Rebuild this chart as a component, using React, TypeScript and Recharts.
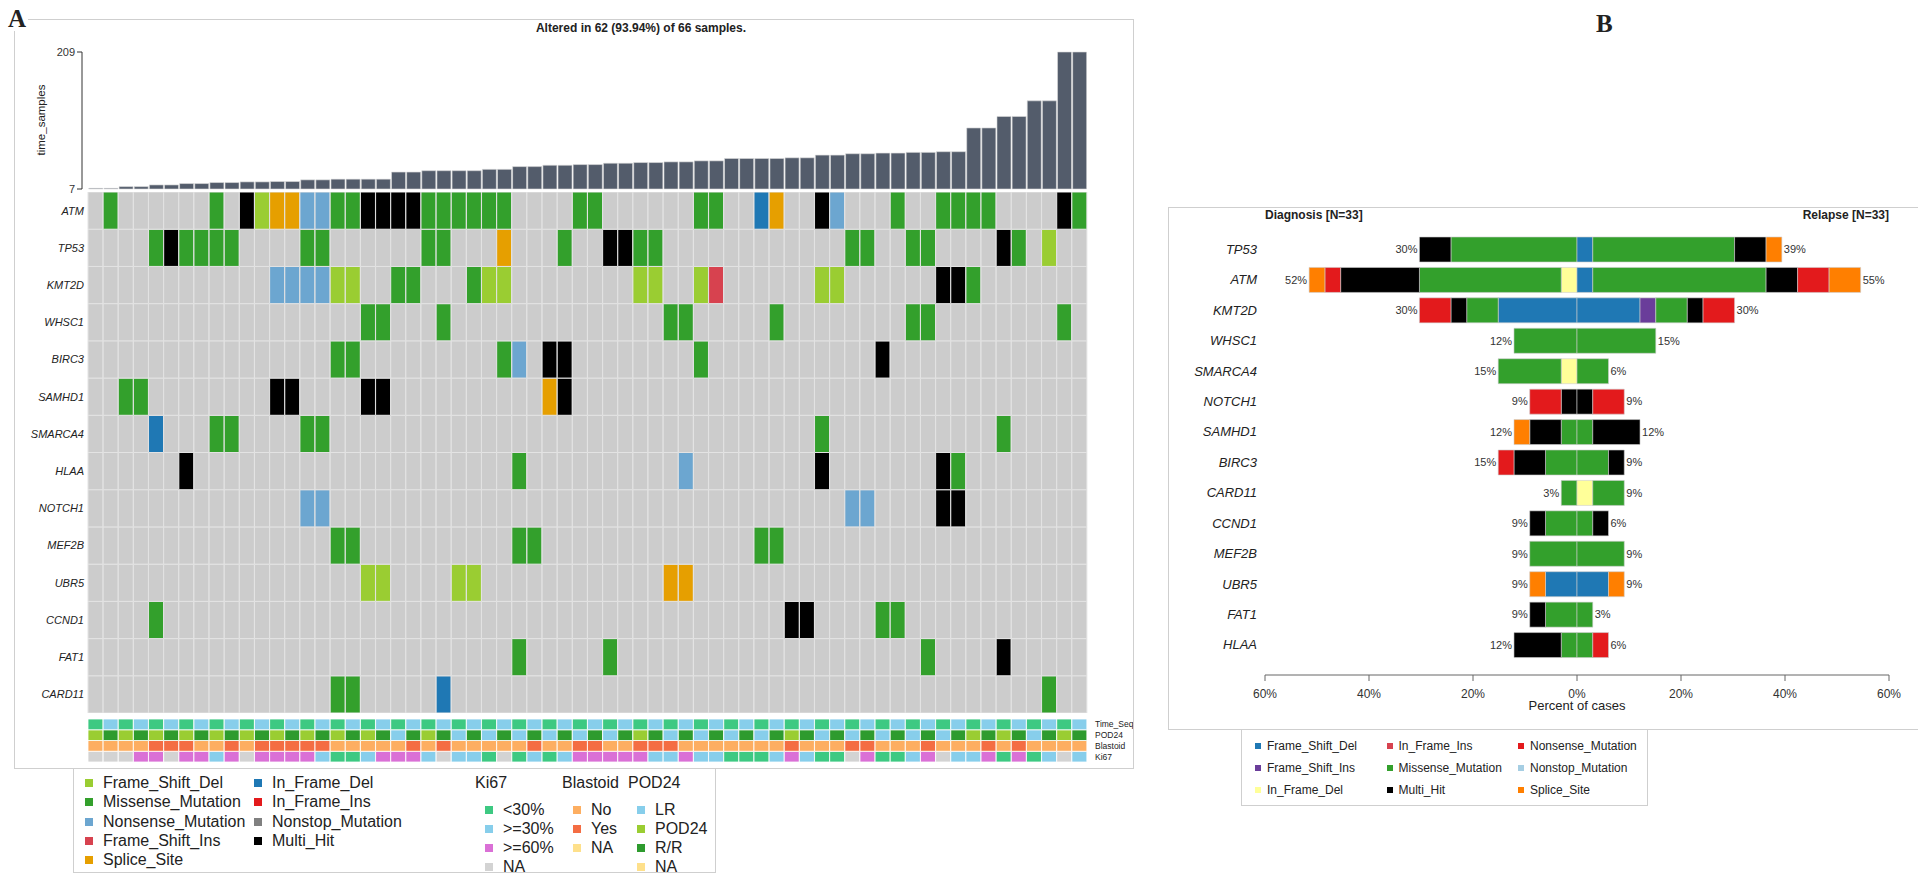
import React from 'react';
import { BarChart, Bar, XAxis, YAxis, Cell } from 'recharts';

// ---------------- Panel A: oncoplot ----------------
const sampleIds = Array.from({ length: 66 }, (_, i) => `S${i + 1}`);

// mutation burden shown above the oncoplot (one value per sample)
const tmbValues = [
  8, 8, 10.5, 10.5, 13, 13, 15, 15, 16.5, 16.5, 17.5, 17.5, 18, 18, 20.5, 20.5, 21.5, 21.5, 21.5, 21.5,
  32, 32, 34, 34, 34, 34, 36, 36, 40, 40, 42, 42, 43, 43, 45, 45, 46, 46, 47, 47,
  48.5, 48.5, 52, 52, 52, 52, 53, 53, 57, 57, 59, 59, 60, 60, 61, 61, 62, 62, 97, 97,
  114, 114, 137, 137, 209, 209,
];

const oncoGenes = ['ATM', 'TP53', 'KMT2D', 'WHSC1', 'BIRC3', 'SAMHD1', 'SMARCA4', 'HLAA', 'NOTCH1', 'MEF2B', 'UBR5', 'CCND1', 'FAT1', 'CARD11'];

// one code per sample: . none, M missense, F frame_shift_del, I frame_shift_ins,
// N nonsense, S splice_site, D in_frame_del, H multi_hit
const strip = (s: string) => s.replace(/ /g, '').split('');
const atmRow = strip('.M......M. HFSSNNMMHH HHMMMMMM.. ..MM...... MM..DS..HN ...M..MMMM ....HM');
const tp53Row = strip('....MHMMMM ....MM.... ..MM...S.. .M..HHMM.. .......... MM..MM.... HM.F..');
const kmt2dRow = strip('.......... ..NNNNFF.. MM...MFF.. ......FF.. FI......FF ......HHM. ......');
const whsc1Row = strip('.......... ........MM ...M...... ........MM .....M.... ....MM.... ....M.');
const birc3Row = strip('.......... ......MM.. .......MN. HH........ M......... ..H....... ......');
const samhd1Row = strip('..MM...... ..HH....HH .......... SH........ .......... .......... ......');
const smarca4Row = strip('....D...MM ....MM.... .......... .......... ........M. .......... M.....');
const hlaaRow = strip('......H... .......... ........M. .........N ........H. ......HM.. ......');
const notch1Row = strip('.......... ....NN.... .......... .......... .......... NN....HH.. ......');
const mef2bRow = strip('.......... ......MM.. ........MM .......... ....MM.... .......... ......');
const ubr5Row = strip('.......... ........FF ....FF.... ........SS .......... .......... ......');
const ccnd1Row = strip('....M..... .......... .......... .......... ......HH.. ..MM...... ......');
const fat1Row = strip('.......... .......... ........M. ....M..... .......... .....M.... H.....');
const card11Row = strip('.......... ......MM.. ...D...... .......... .......... .......... ...M..');
const oncoRows = [atmRow, tp53Row, kmt2dRow, whsc1Row, birc3Row, samhd1Row, smarca4Row, hlaaRow, notch1Row, mef2bRow, ubr5Row, ccnd1Row, fat1Row, card11Row];

// clinical annotation tracks
const trackNames = ['Ki67', 'Blastoid', 'POD24', 'Time_Seq']; // bottom -> top
const timeSeqRow = strip('DRDRDRDRDR DRDRDRDRDR DRDRDRDRDR DRDRDRDRDR DRDRDRDRDR DRDRDRDRDR DRDRDR');
const pod24Row = strip('PRPRPRPRPR PRPRPRPRPR LRPRLRLRLR LRLRLRPRLR LRLRLRPRLR LRLRLRLRPR PRLRPR');
const blastoidRow = strip('NNNNYYYNNY NYYYYYNNNN NYNYNNNNNY NNYYNNYYYN NNNNNNYNNN YYNNNYNNNY NYNNNN');
const ki67Row = strip('XXXPPXPPBP XPPPPBGGBP PPBXBBGXGB GBPPPPPBBP BBGGGBPBGG XPGGBPXBBP GPGBXB');

const mutColors: Record<string, string> = {
  '.': '#CCCCCC', M: '#33A02C', F: '#9ACD32', I: '#D7424F', N: '#6CA6D0', S: '#E69F00', D: '#1F78B4', H: '#000000',
};
const timeSeqColors: Record<string, string> = { D: '#3DC982', R: '#87CEEB' };
const pod24Colors: Record<string, string> = { L: '#87CEEB', P: '#9ACD32', R: '#2E9B2E', X: '#FEE08B' };
const blastoidColors: Record<string, string> = { N: '#FDAE61', Y: '#F46D43', X: '#FEE08B' };
const ki67Colors: Record<string, string> = { G: '#3DC982', B: '#87CEEB', P: '#DA70D6', X: '#D3D3D3' };

const trackRows: Record<string, string[]> = { Ki67: ki67Row, Blastoid: blastoidRow, POD24: pod24Row, Time_Seq: timeSeqRow };
const trackColors: Record<string, Record<string, string>> = { Ki67: ki67Colors, Blastoid: blastoidColors, POD24: pod24Colors, Time_Seq: timeSeqColors };

const legendMutCol1 = [['Frame_Shift_Del', '#9ACD32'], ['Missense_Mutation', '#33A02C'], ['Nonsense_Mutation', '#6CA6D0'], ['Frame_Shift_Ins', '#D7424F'], ['Splice_Site', '#E69F00']];
const legendMutCol2 = [['In_Frame_Del', '#1F78B4'], ['In_Frame_Ins', '#E31A1C'], ['Nonstop_Mutation', '#808080'], ['Multi_Hit', '#000000']];
const legendKi67 = [['<30%', '#3DC982'], ['>=30%', '#87CEEB'], ['>=60%', '#DA70D6'], ['NA', '#D3D3D3']];
const legendBlastoid = [['No', '#FDAE61'], ['Yes', '#F46D43'], ['NA', '#FEE08B']];
const legendPod24 = [['LR', '#87CEEB'], ['POD24', '#9ACD32'], ['R/R', '#2E9B2E'], ['NA', '#FEE08B']];

// ---------------- Panel B: diagnosis vs relapse ----------------
const coGenes = ['TP53', 'ATM', 'KMT2D', 'WHSC1', 'SMARCA4', 'NOTCH1', 'SAMHD1', 'BIRC3', 'CARD11', 'CCND1', 'MEF2B', 'UBR5', 'FAT1', 'HLAA'];
const nDiagnosis = 33;
const nRelapse = 33;
const coClasses = ['Frame_Shift_Del', 'Frame_Shift_Ins', 'In_Frame_Del', 'Missense_Mutation', 'Multi_Hit', 'Nonsense_Mutation', 'Splice_Site'];
const coColors: Record<string, string> = {
  Frame_Shift_Del: '#1F78B4', Frame_Shift_Ins: '#6A3D9A', In_Frame_Del: '#FFFF99', In_Frame_Ins: '#D7424F',
  Missense_Mutation: '#33A02C', Multi_Hit: '#000000', Nonsense_Mutation: '#E31A1C', Nonstop_Mutation: '#A6CEE3', Splice_Site: '#FF7F00',
};
// sample counts per gene (same order as coGenes)
const dxFrameShiftDel = [0, 0, 5, 0, 0, 0, 0, 0, 0, 0, 0, 2, 0, 0];
const dxFrameShiftIns = [0, 0, 0, 0, 0, 0, 0, 0, 0, 0, 0, 0, 0, 0];
const dxInFrameDel = [0, 1, 0, 0, 1, 0, 0, 0, 0, 0, 0, 0, 0, 0];
const dxMissense = [8, 9, 2, 4, 4, 0, 1, 2, 1, 2, 3, 0, 2, 1];
const dxMultiHit = [2, 5, 1, 0, 0, 1, 2, 2, 0, 1, 0, 0, 1, 3];
const dxNonsense = [0, 1, 2, 0, 0, 2, 0, 1, 0, 0, 0, 0, 0, 0];
const dxSplice = [0, 1, 0, 0, 0, 0, 1, 0, 0, 0, 0, 1, 0, 0];
const rlFrameShiftDel = [1, 1, 4, 0, 0, 0, 0, 0, 0, 0, 0, 2, 0, 0];
const rlFrameShiftIns = [0, 0, 1, 0, 0, 0, 0, 0, 0, 0, 0, 0, 0, 0];
const rlInFrameDel = [0, 0, 0, 0, 0, 0, 0, 0, 1, 0, 0, 0, 0, 0];
const rlMissense = [9, 11, 2, 5, 2, 0, 1, 2, 2, 1, 3, 0, 1, 1];
const rlMultiHit = [2, 2, 1, 0, 0, 1, 3, 1, 0, 1, 0, 0, 0, 0];
const rlNonsense = [0, 2, 2, 0, 0, 2, 0, 0, 0, 0, 0, 0, 0, 1];
const rlSplice = [1, 2, 0, 0, 0, 0, 0, 0, 0, 0, 0, 1, 0, 0];

const dxCounts = [dxFrameShiftDel, dxFrameShiftIns, dxInFrameDel, dxMissense, dxMultiHit, dxNonsense, dxSplice];
const rlCounts = [rlFrameShiftDel, rlFrameShiftIns, rlInFrameDel, rlMissense, rlMultiHit, rlNonsense, rlSplice];

const legendB = [
  ['Frame_Shift_Del', 'Frame_Shift_Ins', 'In_Frame_Del'],
  ['In_Frame_Ins', 'Missense_Mutation', 'Multi_Hit'],
  ['Nonsense_Mutation', 'Nonstop_Mutation', 'Splice_Site'],
];

// ---------------- derived tables ----------------
const tmbData = sampleIds.map((id, i) => ({ id, tmb: tmbValues[i] }));
const oncoPct = oncoRows.map((r) => `${Math.round((r.filter((c) => c !== '.').length / sampleIds.length) * 100)}%`);
const gridData = sampleIds.map((id) => {
  const row: Record<string, any> = { id };
  oncoGenes.forEach((g) => (row[g] = 1));
  trackNames.forEach((t) => (row[t] = 1));
  return row;
});
const rowTicks = oncoGenes.map((_, i) => i + 0.5);
const trackTicks = trackNames.map((_, i) => i + 0.5);

const coData = coGenes.map((gene, i) => {
  const row: Record<string, any> = { gene };
  coClasses.forEach((c, k) => {
    row[`dx_${c}`] = -(dxCounts[k][i] / nDiagnosis) * 100;
    row[`rl_${c}`] = (rlCounts[k][i] / nRelapse) * 100;
  });
  return row;
});
const dxTotals = coGenes.map((_, i) => dxCounts.reduce((s, a) => s + a[i], 0));
const rlTotals = coGenes.map((_, i) => rlCounts.reduce((s, a) => s + a[i], 0));
const outerClass = (counts: number[][]) =>
  coGenes.map((_, i) => {
    for (let k = coClasses.length - 1; k >= 0; k--) if (counts[k][i] > 0) return coClasses[k];
    return '';
  });
const dxOuter = outerClass(dxCounts);
const rlOuter = outerClass(rlCounts);

// panel B chart geometry (plot starts at top of svg; category range ends above the 15px axis padding)
const CO_HEIGHT = 481;
const CO_XAXIS_H = 40;
const CO_PAD_BOTTOM = 15;
const coBand = (CO_HEIGHT - CO_XAXIS_H - CO_PAD_BOTTOM) / coGenes.length;

const makeEndLabel = (side: 'dx' | 'rl', cls: string) => (p: any) => {
  const vb = p.viewBox && p.viewBox.width != null ? p.viewBox : p;
  const i = Math.floor((vb.y + vb.height / 2) / coBand);
  const outer = side === 'dx' ? dxOuter : rlOuter;
  if (!(i >= 0 && i < coGenes.length) || outer[i] !== cls) return null;
  const x0 = Math.min(vb.x, vb.x + vb.width);
  const x1 = Math.max(vb.x, vb.x + vb.width);
  const total = side === 'dx' ? dxTotals[i] / nDiagnosis : rlTotals[i] / nRelapse;
  return (
    <text key={`${side}-${i}`} x={side === 'dx' ? x0 - 2 : x1 + 2} y={vb.y + vb.height / 2} dy="0.35em"
      textAnchor={side === 'dx' ? 'end' : 'start'} fontSize={11} fill="#333">
      {`${Math.round(total * 100)}%`}
    </text>
  );
};

// ---------------- small html helpers ----------------
const Box = ({ left, top, width, height }: any) => (
  <div style={{ position: 'absolute', left, top, width, height, border: '1px solid #cfcfcf', boxSizing: 'border-box' }} />
);
const Key = ({ x, y, color, label, size = 8, font = 16 }: any) => (
  <>
    <div style={{ position: 'absolute', left: x - size / 2, top: y - size / 2, width: size, height: size, background: color }} />
    <div style={{ position: 'absolute', left: x + size / 2 + (font > 13 ? 10 : 6), top: y - font * 0.62, fontSize: font, lineHeight: `${font * 1.2}px`, whiteSpace: 'nowrap' }}>{label}</div>
  </>
);
const Title = ({ x, y, label, font = 16, bold = false }: any) => (
  <div style={{ position: 'absolute', left: x, top: y - font * 0.62, fontSize: font, lineHeight: `${font * 1.2}px`, whiteSpace: 'nowrap', fontWeight: bold ? 700 : 400 }}>{label}</div>
);

const App: React.FC = () => {
  return (
    <div style={{ position: 'absolute', left: 0, top: 0, width: 1918, height: 877, overflow: 'hidden', background: '#fff', color: '#222', fontFamily: '"Liberation Sans", Arial, sans-serif' }}>
      {/* ---------- panel A frame ---------- */}
      <Box left={14} top={19} width={1120} height={750} />
      <Box left={73} top={768} width={643} height={105} />
      <div style={{ position: 'absolute', left: 6, top: 6, fontFamily: '"Liberation Serif", serif', fontWeight: 700, fontSize: 25, lineHeight: '25px', background: '#fff', padding: '0 2px' }}>A</div>
      <div style={{ position: 'absolute', left: 441, top: 21, width: 400, textAlign: 'center', fontSize: 12, lineHeight: '14px', fontWeight: 700 }}>
        Altered in 62 (93.94%) of 66 samples.
      </div>
      <div style={{ position: 'absolute', left: -9, top: 113, width: 100, textAlign: 'center', fontSize: 11.5, lineHeight: '14px', transform: 'rotate(-90deg)' }}>time_samples</div>

      {/* mutation burden bars */}
      <div style={{ position: 'absolute', left: 24, top: 40 }}>
        <BarChart width={1063} height={157} data={tmbData} margin={{ top: 12, right: 0, bottom: 8, left: 0 }} barCategoryGap={0.8}>
          <XAxis dataKey="id" hide padding={{ left: 6, right: 0 }} />
          <YAxis width={58} domain={[7, 209]} ticks={[7, 209]} interval={0} tickSize={5} tick={{ fontSize: 11, fill: '#333' }}
            axisLine={{ stroke: '#333' }} tickLine={{ stroke: '#333' }} />
          <Bar dataKey="tmb" fill="#535C6B" stroke="#dcdcdc" strokeWidth={0.6} isAnimationActive={false} />
        </BarChart>
      </div>

      {/* oncoplot grid */}
      <div style={{ position: 'absolute', left: 28, top: 192 }}>
        <BarChart width={1099} height={521} data={gridData} margin={{ top: 0, right: 0, bottom: 0, left: 0 }} barCategoryGap={0} barGap={0}>
          <XAxis dataKey="id" hide />
          <YAxis yAxisId="gene" type="number" width={60} domain={[0, oncoGenes.length]} ticks={rowTicks} interval={0}
            axisLine={false} tickLine={false} tickSize={2} tickMargin={2}
            tick={{ fontSize: 11, fill: '#222', fontStyle: 'italic' }}
            tickFormatter={(v: number) => oncoGenes[oncoGenes.length - 1 - Math.floor(v)]} />
          <YAxis yAxisId="pct" orientation="right" type="number" width={40} domain={[0, oncoGenes.length]} ticks={rowTicks} interval={0}
            axisLine={false} tickLine={false} tickSize={2} tickMargin={4}
            tick={{ fontSize: 10.5, fill: '#222' }}
            tickFormatter={(v: number) => oncoPct[oncoGenes.length - 1 - Math.floor(v)]} />
          {[...oncoGenes].reverse().map((g) => {
            const r = oncoRows[oncoGenes.indexOf(g)];
            return (
              <Bar key={g} yAxisId="gene" dataKey={g} stackId="onco" stroke="#e3e3e3" strokeWidth={1} isAnimationActive={false}>
                {r.map((c, i) => <Cell key={i} fill={mutColors[c]} />)}
              </Bar>
            );
          })}
        </BarChart>
      </div>

      {/* annotation tracks */}
      <div style={{ position: 'absolute', left: 88, top: 719 }}>
        <BarChart width={1045} height={43} data={gridData} margin={{ top: 0, right: 0, bottom: 0, left: 0 }} barCategoryGap={0} barGap={0}>
          <XAxis dataKey="id" hide />
          <YAxis yAxisId="trk" orientation="right" type="number" width={46} domain={[0, trackNames.length]} ticks={trackTicks} interval={0}
            axisLine={false} tickLine={false} tickSize={2} tickMargin={6}
            tick={{ fontSize: 8.5, fill: '#222' }}
            tickFormatter={(v: number) => trackNames[Math.floor(v)]} />
          {trackNames.map((t) => (
            <Bar key={t} yAxisId="trk" dataKey={t} stackId="trk" stroke="#ffffff" strokeWidth={0.8} isAnimationActive={false}>
              {trackRows[t].map((c, i) => <Cell key={i} fill={trackColors[t][c]} />)}
            </Bar>
          ))}
        </BarChart>
      </div>

      {/* legend A */}
      {legendMutCol1.map(([l, c], i) => <Key key={l} x={89} y={783 + i * 19.3} color={c} label={l} />)}
      {legendMutCol2.map(([l, c], i) => <Key key={l} x={258} y={783 + i * 19.3} color={c} label={l} />)}
      <Title x={475} y={783} label="Ki67" />
      <Title x={562} y={783} label="Blastoid" />
      <Title x={628} y={783} label="POD24" />
      {legendKi67.map(([l, c], i) => <Key key={l} x={489} y={810 + i * 19} color={c} label={l} />)}
      {legendBlastoid.map(([l, c], i) => <Key key={l} x={577} y={810 + i * 19} color={c} label={l} />)}
      {legendPod24.map(([l, c], i) => <Key key={l} x={641} y={810 + i * 19} color={c} label={l} />)}

      {/* ---------- panel B ---------- */}
      <Box left={1168} top={207} width={760} height={523} />
      <Box left={1241} top={729} width={407} height={77} />
      <div style={{ position: 'absolute', left: 1596, top: 11, fontFamily: '"Liberation Serif", serif', fontWeight: 700, fontSize: 25, lineHeight: '25px' }}>B</div>
      <Title x={1265} y={215} label="Diagnosis [N=33]" font={12} bold />
      <div style={{ position: 'absolute', left: 1689, width: 200, top: 215 - 7.5, textAlign: 'right', fontSize: 12, lineHeight: '14px', fontWeight: 700 }}>Relapse [N=33]</div>

      <div style={{ position: 'absolute', left: 1170, top: 234 }}>
        <BarChart layout="vertical" width={749} height={CO_HEIGHT} data={coData} margin={{ top: 0, right: 30, bottom: 0, left: 0 }}
          stackOffset="sign" barSize={25}>
          <XAxis type="number" domain={[-60, 60]} ticks={[-60, -40, -20, 0, 20, 40, 60]} height={CO_XAXIS_H}
            tickFormatter={(v: number) => `${Math.abs(v)}%`} tickSize={6} tickMargin={8}
            axisLine={{ stroke: '#666' }} tickLine={{ stroke: '#666' }} tick={{ fontSize: 12, fill: '#333' }}
            label={{ value: 'Percent of cases', position: 'insideBottom', offset: 5, fontSize: 13, fill: '#222' }} />
          <YAxis type="category" dataKey="gene" width={95} axisLine={false} tickLine={false} interval={0}
            padding={{ top: 0, bottom: CO_PAD_BOTTOM }} tick={{ fontSize: 13, fill: '#222', fontStyle: 'italic' }} />
          {coClasses.map((c) => (
            <Bar key={`dx_${c}`} dataKey={`dx_${c}`} stackId="co" fill={coColors[c]} stroke="#cfcfcf" strokeWidth={0.6}
              isAnimationActive={false} label={makeEndLabel('dx', c)} />
          ))}
          {coClasses.map((c) => (
            <Bar key={`rl_${c}`} dataKey={`rl_${c}`} stackId="co" fill={coColors[c]} stroke="#cfcfcf" strokeWidth={0.6}
              isAnimationActive={false} label={makeEndLabel('rl', c)} />
          ))}
        </BarChart>
      </div>

      {/* legend B */}
      {legendB.map((col, ci) =>
        col.map((l, ri) => <Key key={l} x={1258 + ci * 131.5} y={746 + ri * 22} color={coColors[l]} label={l} size={6} font={12} />)
      )}
    </div>
  );
};

export default App;
